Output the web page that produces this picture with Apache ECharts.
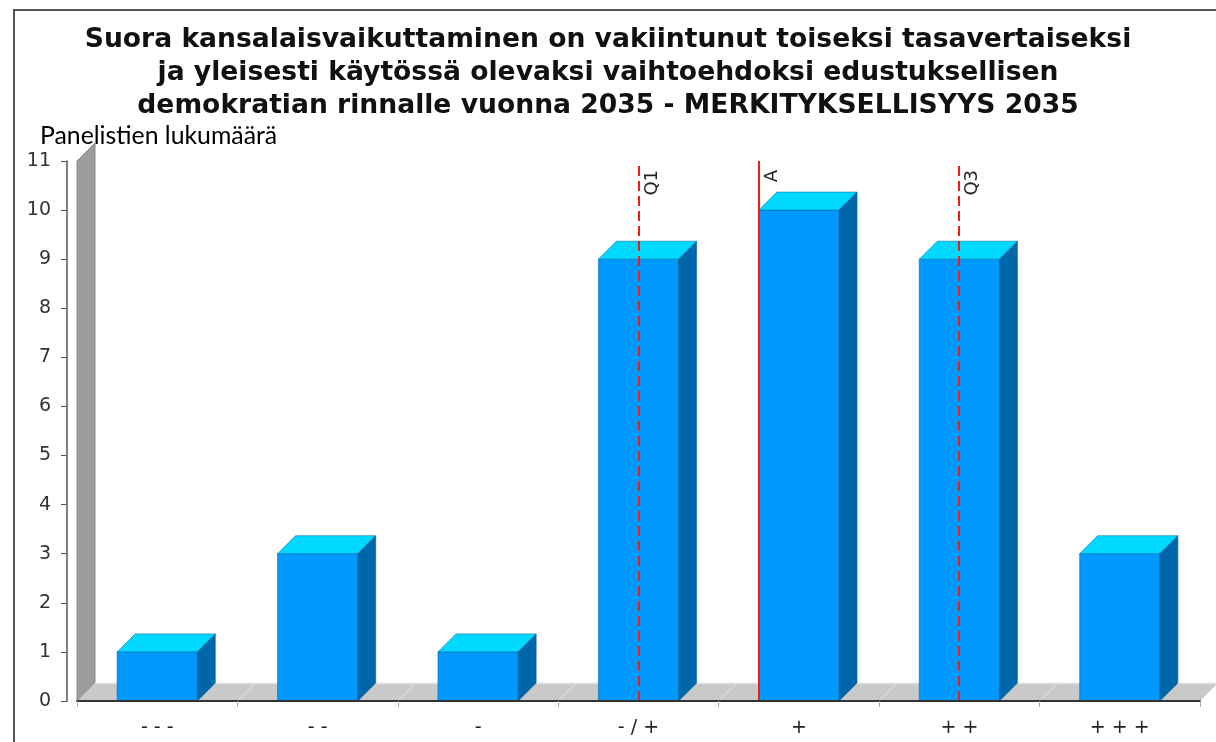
<!DOCTYPE html>
<html>
<head>
<meta charset="utf-8">
<script src="https://cdn.jsdelivr.net/npm/echarts@6/dist/echarts.min.js"></script>
<style>
  html, body { margin: 0; padding: 0; background: #fff; }
  #chart { width: 1216px; height: 742px; }
</style>
</head>
<body>
<div id="chart"></div>
<script>
// Answer categories and panelist counts
const categories = ['- - -', '- -', '-', '- / +', '+', '+ +', '+ + +'];
const counts = [1, 3, 1, 9, 10, 9, 3];

// Reference lines: quartiles and mean, expressed on a 1..7 category scale
const markerNames = ['Q1', 'A', 'Q3'];
const markerValues = [4, 4.75, 6];
const markerDashed = [true, false, true];

const titleText = 'Suora kansalaisvaikuttaminen on vakiintunut toiseksi tasavertaiseksi\n' +
  'ja yleisesti käytössä olevaksi vaihtoehdoksi edustuksellisen\n' +
  'demokratian rinnalle vuonna 2035 - MERKITYKSELLISYYS 2035';
const yAxisTitle = 'Panelistien lukumäärä';

const DEPTH = 18;
const FONT = 'DejaVu Sans';

const chart = echarts.init(document.getElementById('chart'), null, { renderer: 'canvas' });

// Gray back wall and floor of the pseudo-3D plot area
function renderBackdrop(params, api) {
  const cs = params.coordSys;
  const x0 = cs.x, x1 = cs.x + cs.width;
  const yTop = cs.y, yBot = cs.y + cs.height;
  const children = [
    {
      type: 'polygon',
      shape: { points: [[x0, yBot], [x0, yTop], [x0 + DEPTH, yTop - DEPTH], [x0 + DEPTH, yBot - DEPTH]] },
      style: { fill: '#9c9c9c', stroke: '#8a8a8a', lineWidth: 1 }
    },
    {
      type: 'polygon',
      shape: { points: [[x0, yBot], [x1, yBot], [x1 + DEPTH, yBot - DEPTH], [x0 + DEPTH, yBot - DEPTH]] },
      style: { fill: '#c9c9c9' }
    },
    {
      type: 'line',
      shape: { x1: x0 + DEPTH, y1: yBot - DEPTH, x2: x1 + DEPTH, y2: yBot - DEPTH },
      style: { stroke: '#ececec', lineWidth: 1.5 }
    }
  ];
  const step = cs.width / categories.length;
  for (let i = 1; i < categories.length; i++) {
    const bx = x0 + step * i;
    children.push({
      type: 'line',
      shape: { x1: bx, y1: yBot, x2: bx + DEPTH, y2: yBot - DEPTH },
      style: { stroke: '#e6e6e6', lineWidth: 1 }
    });
  }
  return { type: 'group', children };
}

// Box-shaped bars: front face, top face and right side face
function renderBar(params, api) {
  const idx = api.value(0);
  const val = api.value(1);
  const top = api.coord([idx, val]);
  const base = api.coord([idx, 0]);
  const w = api.size([1, 0])[0] * 0.5;
  const xl = top[0] - w / 2, xr = top[0] + w / 2;
  const yt = top[1], yb = base[1];
  const edge = 'rgba(0, 100, 160, 0.55)';
  return {
    type: 'group',
    children: [
      {
        type: 'rect',
        shape: { x: xl, y: yt, width: w, height: yb - yt },
        style: { fill: '#0099ff', stroke: edge, lineWidth: 1 }
      },
      {
        type: 'polygon',
        shape: { points: [[xl, yt], [xr, yt], [xr + DEPTH, yt - DEPTH], [xl + DEPTH, yt - DEPTH]] },
        style: { fill: '#00d9ff', stroke: edge, lineWidth: 1 }
      },
      {
        type: 'polygon',
        shape: { points: [[xr, yt], [xr + DEPTH, yt - DEPTH], [xr + DEPTH, yb - DEPTH], [xr, yb]] },
        style: { fill: '#0066aa', stroke: edge, lineWidth: 1 }
      }
    ]
  };
}

// Vertical red marker lines with rotated captions
function renderMarker(params, api) {
  const v = api.value(0);
  const i = params.dataIndex;
  const cs = params.coordSys;
  const p = api.coord([v, 0]);
  const x = Math.round(p[0]);
  const yTop = cs.y, yBot = cs.y + cs.height;
  return {
    type: 'group',
    children: [
      {
        type: 'line',
        shape: { x1: x, y1: yBot, x2: x, y2: yTop },
        style: {
          stroke: '#f01c1c', lineWidth: 2,
          lineDash: markerDashed[i] ? [10, 5] : null
        }
      },
      {
        type: 'text',
        x: x + 4,
        y: yTop + 9,
        rotation: Math.PI / 2,
        style: {
          text: markerNames[i],
          fontFamily: FONT, fontSize: 18, fill: '#222',
          align: 'right', verticalAlign: 'top'
        }
      }
    ]
  };
}

const option = {
  animation: false,
  backgroundColor: '#ffffff',
  title: {
    text: titleText,
    left: 'center',
    top: 19,
    textStyle: {
      fontFamily: FONT, fontSize: 26.6, fontWeight: 'bold',
      color: '#111', lineHeight: 33
    }
  },
  graphic: [
    {
      type: 'rect',
      shape: { x: 14, y: 10, width: 1260, height: 800 },
      style: { fill: 'none', stroke: '#555', lineWidth: 2 },
      z: -1
    },
    {
      type: 'text',
      x: 40, y: 136,
      style: {
        text: yAxisTitle, fontFamily: 'Lato', fontSize: 24.8, fill: '#000',
        verticalAlign: 'middle'
      }
    }
  ],
  grid: { left: 77, right: 16, top: 161, bottom: 41 },
  xAxis: [
    {
      type: 'category',
      data: categories,
      boundaryGap: true,
      axisLine: { show: true, lineStyle: { color: '#333', width: 2 } },
      axisTick: { show: true, interval: 0, length: 6, lineStyle: { color: '#aaa' } },
      axisLabel: { fontFamily: FONT, fontSize: 19, color: '#222', margin: 18, interval: 0 },
      splitLine: { show: false },
      z: 5
    },
    {
      type: 'value',
      min: 0.5, max: 7.5,
      show: false
    }
  ],
  yAxis: {
    type: 'value',
    min: 0, max: 11, interval: 1,
    offset: 10,
    axisLine: { show: true, lineStyle: { color: '#555', width: 1.5 } },
    axisTick: { show: true, length: 6, lineStyle: { color: '#555' } },
    axisLabel: { fontFamily: FONT, fontSize: 19, color: '#333', margin: 16 },
    splitLine: { show: false }
  },
  series: [
    {
      type: 'custom',
      xAxisIndex: 0,
      renderItem: renderBackdrop,
      data: [[0, 0]],
      silent: true,
      z: 1
    },
    {
      type: 'custom',
      xAxisIndex: 0,
      renderItem: renderBar,
      data: counts.map((c, i) => [i, c]),
      encode: { x: 0, y: 1 },
      z: 2
    },
    {
      type: 'custom',
      xAxisIndex: 1,
      renderItem: renderMarker,
      data: markerValues.map(v => [v, 0]),
      encode: { x: 0, y: 1 },
      z: 3
    }
  ]
};

chart.setOption(option);
</script>
</body>
</html>
